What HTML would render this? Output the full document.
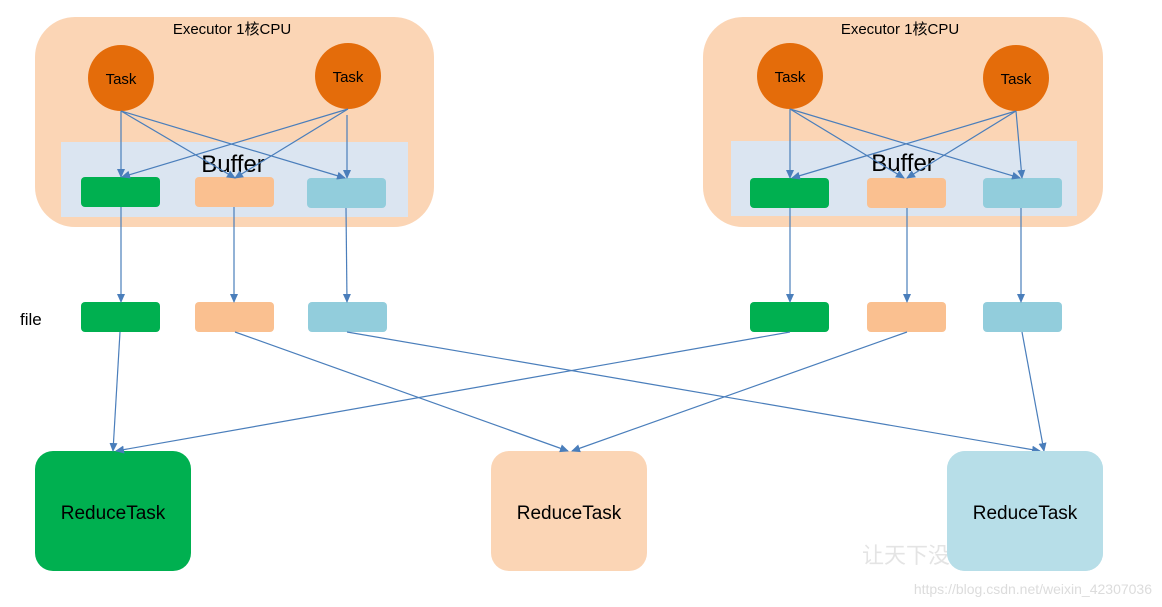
<!DOCTYPE html>
<html><head><meta charset="utf-8"><style>body{margin:0;background:#fff}svg{display:block}</style></head><body>
<svg width="1162" height="607" viewBox="0 0 1162 607" xmlns="http://www.w3.org/2000/svg" font-family="Liberation Sans, Noto Sans CJK SC, sans-serif">
<defs><marker id="a" markerWidth="10" markerHeight="10" refX="8" refY="5" orient="auto" markerUnits="userSpaceOnUse"><path d="M0,1 L9,5 L0,9 Z" fill="#4A7EBB"/></marker></defs>
<rect x="35" y="17" width="399" height="210" rx="40" fill="#FBD5B5"/>
<rect x="703" y="17" width="400" height="210" rx="40" fill="#FBD5B5"/>
<text x="232" y="34" font-size="15" text-anchor="middle">Executor 1核CPU</text>
<text x="900" y="34" font-size="15" text-anchor="middle">Executor 1核CPU</text>
<rect x="61" y="142" width="347" height="75" fill="#DBE5F1"/>
<rect x="731" y="141" width="346" height="75" fill="#DBE5F1"/>
<text x="233" y="172" font-size="24" text-anchor="middle">Buffer</text>
<text x="903" y="171" font-size="24" text-anchor="middle">Buffer</text>
<g fill="#E46C0A"><circle cx="121" cy="78" r="33"/><circle cx="348" cy="76" r="33"/><circle cx="790" cy="76" r="33"/><circle cx="1016" cy="78" r="33"/></g>
<g font-size="15" text-anchor="middle"><text x="121" y="84">Task</text><text x="348" y="82">Task</text><text x="790" y="82">Task</text><text x="1016" y="84">Task</text></g>
<g>
<rect x="81" y="177" width="79" height="30" rx="4" fill="#00B050"/><rect x="195" y="177" width="79" height="30" rx="4" fill="#FAC090"/><rect x="307" y="178" width="79" height="30" rx="4" fill="#92CDDC"/>
<rect x="750" y="178" width="79" height="30" rx="4" fill="#00B050"/><rect x="867" y="178" width="79" height="30" rx="4" fill="#FAC090"/><rect x="983" y="178" width="79" height="30" rx="4" fill="#92CDDC"/>
<rect x="81" y="302" width="79" height="30" rx="4" fill="#00B050"/><rect x="195" y="302" width="79" height="30" rx="4" fill="#FAC090"/><rect x="308" y="302" width="79" height="30" rx="4" fill="#92CDDC"/>
<rect x="750" y="302" width="79" height="30" rx="4" fill="#00B050"/><rect x="867" y="302" width="79" height="30" rx="4" fill="#FAC090"/><rect x="983" y="302" width="79" height="30" rx="4" fill="#92CDDC"/>
</g>
<text x="20" y="325" font-size="17">file</text>
<rect x="35" y="451" width="156" height="120" rx="18" fill="#00B050"/>
<rect x="491" y="451" width="156" height="120" rx="18" fill="#FBD5B5"/>
<rect x="947" y="451" width="156" height="120" rx="18" fill="#B7DEE8"/>
<g font-size="19" text-anchor="middle"><text x="113" y="519">ReduceTask</text><text x="569" y="519">ReduceTask</text><text x="1025" y="519">ReduceTask</text></g>
<g stroke="#4A7EBB" stroke-width="1.2" fill="none" marker-end="url(#a)">
<line x1="121" y1="111" x2="121" y2="177"/><line x1="121" y1="111" x2="235" y2="178"/><line x1="121" y1="111" x2="345" y2="178"/>
<line x1="348" y1="109" x2="122" y2="177"/><line x1="348" y1="109" x2="235" y2="178"/><line x1="347" y1="115" x2="347" y2="178"/>
<line x1="121" y1="207" x2="121" y2="302"/><line x1="234" y1="207" x2="234" y2="302"/><line x1="346" y1="208" x2="347" y2="302"/>
<line x1="790" y1="109" x2="790" y2="178"/><line x1="790" y1="109" x2="904" y2="178"/><line x1="790" y1="109" x2="1020" y2="178"/>
<line x1="1016" y1="111" x2="792" y2="178"/><line x1="1016" y1="111" x2="907" y2="178"/><line x1="1016" y1="111" x2="1022" y2="178"/>
<line x1="790" y1="208" x2="790" y2="302"/><line x1="907" y1="208" x2="907" y2="302"/><line x1="1021" y1="208" x2="1021" y2="302"/>
<line x1="120" y1="332" x2="113" y2="451"/><line x1="235" y1="332" x2="568" y2="451"/><line x1="347" y1="332" x2="1040" y2="451"/>
<line x1="790" y1="332" x2="116" y2="451"/><line x1="907" y1="332" x2="572" y2="451"/><line x1="1022" y1="332" x2="1044" y2="451"/>
</g>
<text x="862" y="563" font-size="22" fill="#e4e4e4">让天下没有难学的技术</text>
<text x="1152" y="594" font-size="14" fill="#dcdcdc" text-anchor="end">https://blog.csdn.net/weixin_42307036</text>
<rect x="947" y="451" width="156" height="120" rx="18" fill="#B7DEE8"/>
<text x="1025" y="519" font-size="19" text-anchor="middle">ReduceTask</text>
</svg>
</body></html>
